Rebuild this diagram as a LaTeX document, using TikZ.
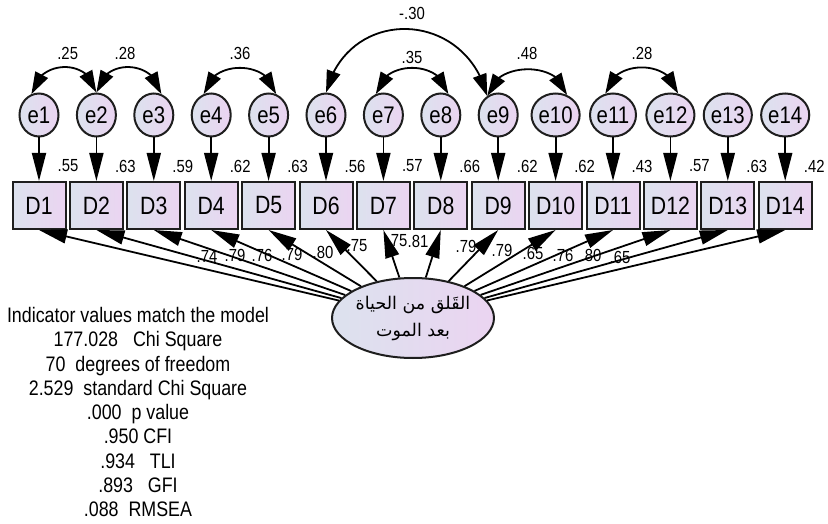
\documentclass[tikz,border=0pt]{standalone}
\usepackage{fontspec}
\setmainfont{Liberation Sans}[FakeStretch=0.85]
\newfontfamily\arabicfont[Script=Arabic]{DejaVu Sans}
\TeXXeTstate=1
\usetikzlibrary{arrows.meta,shapes.geometric,bending}
\definecolor{fillL}{RGB}{220,226,238}
\definecolor{fillR}{RGB}{235,212,241}
\definecolor{edgec}{RGB}{30,30,30}
\begin{document}
\begin{tikzpicture}[x=1pt,y=-1pt,
  obs/.style={draw=edgec, line width=2pt, minimum width=53pt, minimum height=47pt, inner sep=0pt, left color=fillL, right color=fillR, font=\fontsize{25}{25}\selectfont},
  err/.style={ellipse, draw=edgec, line width=2pt, minimum width=39pt, minimum height=43pt, inner sep=0pt, left color=fillL, right color=fillR, font=\fontsize{24}{24}\selectfont},
  lat/.style={ellipse, draw=edgec, line width=2pt, minimum width=136pt, minimum height=80pt, inner sep=0pt, left color=fillL, right color=fillR},
  num/.style={font=\fontsize{17.5}{17.5}\selectfont, inner sep=0pt},
  ld/.style={line width=1.8pt, -{Triangle[length=28pt,width=14pt]}},
  cov/.style={line width=1.8pt, {Triangle[length=22pt,width=14pt]}-{Triangle[length=22pt,width=14pt]}},
]
\fill[white] (0,0) rectangle (828,524);
\useasboundingbox (0,0) rectangle (828,524);

\foreach \i in {1,...,14} {
  \pgfmathsetmacro{\xx}{39+57.4*(\i-1)}
  \node[obs] (D\i) at (\xx,205.5) {D\i};
  \node[err] (e\i) at (\xx,115) {e\i};
  \draw[ld] (e\i) -- (D\i);
}

\foreach \i/\v in {1/.55,2/.63,3/.59,4/.62,5/.63,6/.56,7/.57,8/.66,9/.62,10/.62,11/.43,12/.57,13/.63,14/.42} {
  \pgfmathsetmacro{\xx}{39+57.4*(\i-1)+29}
  \node[num] (r\i) at (\xx,166) {\v};
}

\node[lat, align=center, font=\arabicfont\fontsize{17.5}{27}\selectfont] (L) at (413,318)
  {\beginR القَلق من الحياة\endR\\ \beginR بعد الموت\endR};

\foreach \i in {1,...,14} {
  \draw[ld] (L) -- (D\i.south);
}

\foreach \n/\x/\y/\v in {a1/207/256/.74, a2/235/255/.79, a3/262/255/.76, a4/292/254/.79, a5/323/252/.80, a6/357/246/.75, a7/397/241/.75, a8/418/241/.81, a9/466/246/.79, a10/502/250/.79, a11/533/253/.65, a12/563/255/.76, a13/591/255/.80, a14/620/257/.65} {
  \node[num] (\n) at (\x,\y) {\v};
}

% covariances
\draw[cov] (e1.110) .. controls +(6,-35) and +(-6,-35) .. (e2.90);
\draw[cov] (e2.90) .. controls +(6,-35) and +(-6,-35) .. (e3.70);
\draw[cov] (e4.110) .. controls +(6,-35) and +(-6,-35) .. (e5.70);
\draw[cov] (e7.110) .. controls +(6,-35) and +(-6,-35) .. (e8.70);
\draw[cov] (e9.120) .. controls +(6,-35) and +(-6,-35) .. (e10.60);
\draw[cov] (e11.110) .. controls +(6,-35) and +(-6,-35) .. (e12.70);
\draw[cov] (e6.90) .. controls +(22,-87) and +(-22,-87) .. (e9.120);

\node[num] (c1) at (67.7,53) {.25};
\node[num] (c2) at (125,53) {.28};
\node[num] (c3) at (240,53) {.36};
\node[num] (c4) at (412,57) {.35};
\node[num] (c5) at (527,53) {.48};
\node[num] (c6) at (642,53) {.28};
\node[num] (c7) at (412,13) {-.30};

\node[align=center, font=\fontsize{21}{24.25}\selectfont, inner sep=0pt] (stats) at (138,412)
  {Indicator values match the model\\
   177.028\ \ \ Chi Square\\
   70\ \ degrees of freedom\\
   2.529\ \ standard Chi Square\\
   .000\ \ p value\\
   .950 CFI\\
   .934\ \ \ TLI\\
   .893\ \ \ GFI\\
   .088\ \ RMSEA};
\end{tikzpicture}
\end{document}
